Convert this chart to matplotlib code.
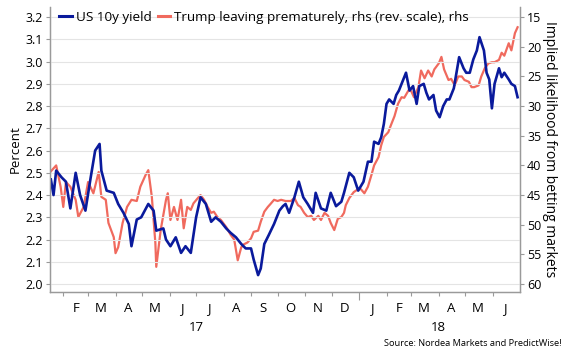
import datetime as dt
import matplotlib
matplotlib.use('Agg')
import matplotlib.pyplot as plt
from matplotlib.lines import Line2D

# days since 2017-01-01
yield_days = [17, 20, 23, 29, 34, 39, 45, 50, 56, 62, 67, 72, 74, 80, 88, 93, 99, 105, 108, 114,
              119, 127, 133, 136, 144, 147, 152, 158, 164, 169, 175, 181, 186, 192, 198, 203, 209,
              215, 220, 226, 232, 237, 243, 246, 251, 254, 258, 263, 269, 275, 279, 282, 286, 292,
              297, 302, 307, 313, 316, 322, 328, 333, 339, 345, 348, 354, 359, 364, 370, 375, 379,
              382, 387, 390, 393, 396, 399, 404, 407, 410, 415, 418, 422, 426, 430, 433, 438, 441,
              444, 449, 452, 456, 460, 464, 467, 472, 475, 478, 483, 486, 490, 494, 498, 501, 506,
              509, 512, 515, 518, 523, 526, 529, 534, 537, 541, 544]
us10y = [2.47, 2.40, 2.51, 2.48, 2.46, 2.34, 2.50, 2.40, 2.33, 2.48, 2.60, 2.63, 2.51, 2.42, 2.41,
         2.36, 2.32, 2.27, 2.17, 2.29, 2.30, 2.36, 2.33, 2.24, 2.25, 2.20, 2.17, 2.21, 2.14, 2.17,
         2.14, 2.30, 2.39, 2.36, 2.28, 2.30, 2.28, 2.25, 2.23, 2.21, 2.18, 2.16, 2.16, 2.11, 2.04,
         2.07, 2.18, 2.22, 2.27, 2.33, 2.35, 2.36, 2.32, 2.39, 2.46, 2.39, 2.36, 2.32, 2.41, 2.34,
         2.33, 2.41, 2.35, 2.37, 2.41, 2.50, 2.48, 2.42, 2.46, 2.55, 2.55, 2.64, 2.63, 2.66, 2.72,
         2.81, 2.83, 2.81, 2.85, 2.87, 2.92, 2.95, 2.87, 2.89, 2.81, 2.89, 2.90, 2.86, 2.83, 2.85,
         2.78, 2.75, 2.80, 2.83, 2.83, 2.88, 2.95, 3.02, 2.97, 2.95, 2.95, 3.01, 3.05, 3.11, 3.05,
         2.95, 2.92, 2.79, 2.90, 2.97, 2.93, 2.95, 2.92, 2.90, 2.89, 2.84]

trump_days = [17, 20, 23, 28, 31, 34, 39, 45, 48, 54, 59, 65, 71, 74, 79, 82, 88, 90, 93, 98, 103,
              108, 114, 118, 124, 127, 131, 135, 136, 141, 147, 149, 152, 156, 160, 164, 167, 171,
              175, 178, 183, 186, 190, 194, 198, 201, 205, 209, 215, 220, 224, 228, 232, 235, 239,
              243, 246, 251, 254, 258, 262, 265, 269, 273, 277, 282, 288, 292, 296, 299, 303, 307,
              311, 314, 319, 322, 326, 330, 333, 337, 341, 345, 348, 350, 354, 359, 364, 367, 371,
              375, 379, 382, 387, 390, 393, 398, 401, 405, 409, 413, 416, 421, 424, 427, 432, 435,
              439, 443, 447, 450, 455, 458, 461, 466, 469, 473, 477, 481, 484, 489, 492, 495, 500,
              503, 507, 511, 515, 518, 523, 526, 529, 534, 537, 541, 544]
trump_leave = [41.0, 40.5, 40.0, 43.6, 47.0, 42.8, 43.6, 45.8, 48.7, 47.0, 42.8, 44.7, 41.1, 45.3,
               45.8, 49.7, 52.1, 54.8, 53.8, 49.7, 47.0, 45.8, 46.0, 43.6, 41.6, 40.8, 45.3, 53.1,
               57.1, 50.9, 45.8, 44.7, 49.2, 47.0, 49.2, 45.8, 50.6, 47.0, 47.5, 46.4, 45.5, 45.0,
               45.8, 47.0, 48.0, 47.8, 48.7, 49.2, 50.4, 51.7, 52.5, 56.0, 53.8, 53.3, 53.0, 52.3,
               51.2, 51.0, 49.5, 47.8, 47.0, 46.5, 45.8, 46.0, 45.8, 46.0, 46.0, 45.5, 46.7, 47.0,
               48.0, 48.7, 48.5, 49.2, 48.5, 49.2, 48.0, 48.5, 49.7, 50.9, 49.0, 48.7, 48.0, 46.7,
               45.5, 44.5, 44.0, 44.0, 44.7, 43.6, 41.6, 40.0, 38.6, 36.6, 35.2, 34.4, 33.2, 31.7,
               29.6, 28.5, 28.6, 27.3, 27.5, 28.5, 26.8, 24.0, 25.3, 24.0, 25.0, 23.8, 22.8, 21.7,
               23.8, 25.6, 25.4, 26.5, 25.0, 25.0, 25.6, 25.9, 26.8, 26.8, 26.5, 25.0, 23.6, 22.8,
               22.6, 22.6, 22.2, 21.0, 21.5, 19.4, 20.6, 17.7, 16.7]

month_letters = ['F', 'M', 'A', 'M', 'J', 'J', 'A', 'S', 'O', 'N', 'D', 'J', 'F', 'M', 'A', 'M', 'J']
year_labels = ['17', '18']

blue = '#0a1a9c'
red = '#f06a5e'
grey = '#9a9a9a'

plt.rcParams['font.family'] = ['Open Sans', 'DejaVu Sans']
plt.rcParams['font.size'] = 8.5

start = dt.date(2017, 1, 1)
yield_dates = [start + dt.timedelta(days=d) for d in yield_days]
trump_dates = [start + dt.timedelta(days=d) for d in trump_days]

fig = plt.figure(figsize=(5.7, 3.57), dpi=100)
ax = fig.add_axes([0.0877, 0.182, 0.825, 0.798])
ax2 = ax.twinx()
ax2.xaxis.set_visible(False)

ax2.plot(trump_dates, trump_leave, color=red, lw=1.6, solid_joinstyle='round')
ax.plot(yield_dates, us10y, color=blue, lw=1.9, solid_joinstyle='round')

# blue on top of red
ax.set_zorder(ax2.get_zorder() + 1)
ax.patch.set_visible(False)

ax.set_xlim(dt.date(2017, 1, 17), dt.date(2018, 7, 2))
ax.set_ylim(1.964, 3.245)
ax2.set_ylim(61.35, 13.31)

ax.set_yticks([2.0 + 0.1 * i for i in range(13)])
ax.set_yticklabels(['%.1f' % (2.0 + 0.1 * i) for i in range(13)])
ax2.set_yticks(range(15, 61, 5))
ax.yaxis.grid(True, color='#e4e4e4', lw=0.8)

# month ticks at boundaries, letters in the middle
bounds = [dt.date(2017 + (m - 1) // 12, (m - 1) % 12 + 1, 1) for m in range(2, 19)]
ax.set_xticks(bounds)
ax.set_xticklabels([])
mids = [b + dt.timedelta(days=14) for b in bounds]
ax.set_xticks(mids, minor=True)
ax.set_xticklabels(month_letters, minor=True)
ax.tick_params(axis='x', which='minor', length=0, pad=7, labelsize=9.5)
ax.tick_params(axis='x', which='major', length=3, color=grey)
ax.tick_params(axis='y', length=3, color=grey, pad=2, labelsize=9)
ax2.tick_params(axis='y', length=3, color=grey, pad=2, labelsize=9)

# longer tick at the year change (Jan 2018)
ax.xaxis.get_major_ticks()[11].tick1line.set_markersize(6)

for lab, d in zip(year_labels, [dt.date(2017, 7, 1), dt.date(2018, 3, 31)]):
    ax.text(d, -0.10, lab, transform=ax.get_xaxis_transform(), ha='center', va='top', fontsize=9.5)

for a in (ax, ax2):
    a.spines['top'].set_visible(False)
    for s in ('left', 'right', 'bottom'):
        a.spines[s].set_color(grey)
        a.spines[s].set_linewidth(0.9)

ax.set_ylabel('Percent', fontsize=9.5, labelpad=3)
ax2.set_ylabel('Implied likelihood from betting markets', fontsize=10, rotation=270, labelpad=11)

handles = [Line2D([], [], color=blue, lw=2.2), Line2D([], [], color=red, lw=2.2)]
ax.legend(handles, ['US 10y yield', 'Trump leaving prematurely, rhs (rev. scale), rhs'],
          loc='upper left', bbox_to_anchor=(0.0, 1.02), ncol=2, frameon=False,
          handlelength=0.9, handletextpad=0.3, columnspacing=0.5, fontsize=9.7, borderaxespad=0.3)

fig.text(0.985, 0.025, 'Source: Nordea Markets and PredictWise!', ha='right', va='bottom', fontsize=6.7)

fig.savefig('out.png', dpi=100)
